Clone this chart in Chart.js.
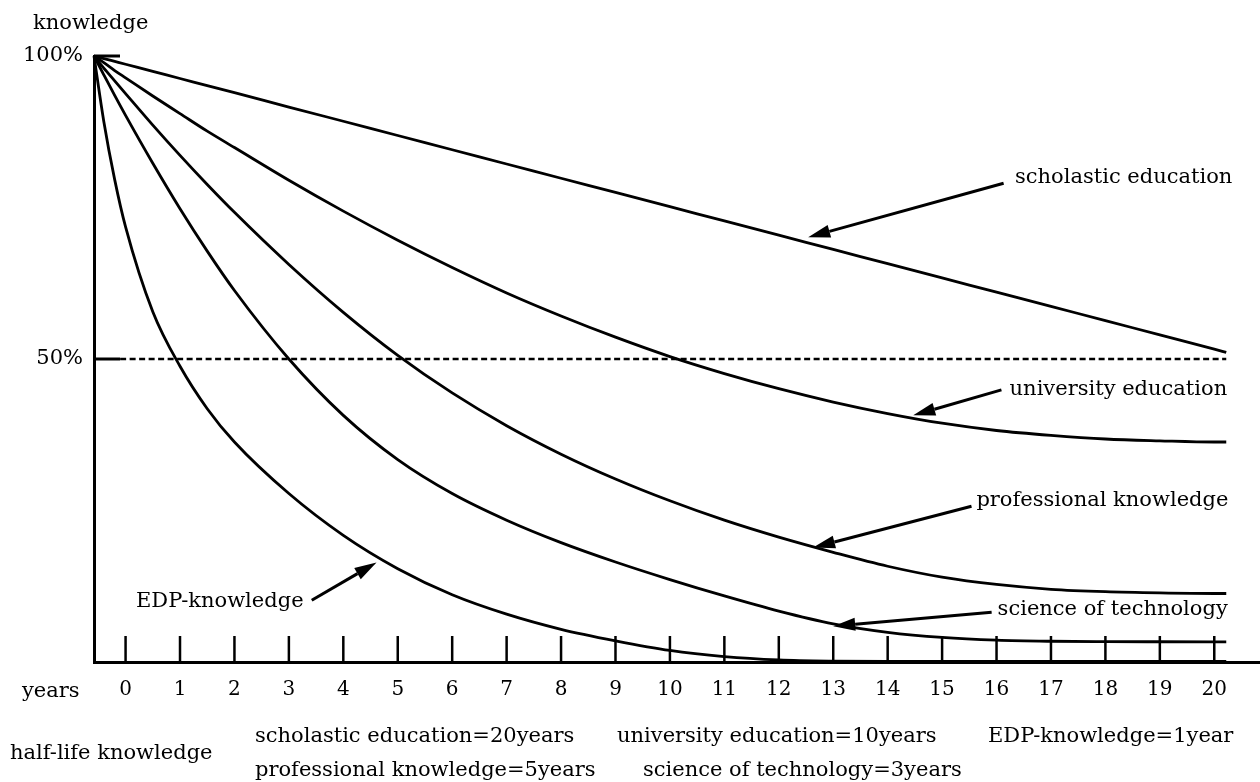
<!DOCTYPE html>
<html>
<head>
<meta charset="utf-8">
<title>Half-life of knowledge</title>
<script src="https://cdn.jsdelivr.net/npm/chart.js@4.4.1/dist/chart.umd.min.js"></script>
<style>
    html, body { margin: 0; padding: 0; background: #fff; }
</style>
</head>
<body>
<canvas id="myChart" width="1260" height="782"></canvas>
<script>
const years = [-0.58, -0.4, -0.2, 0, 0.5, 1, 1.5, 2, 3, 4, 5, 6, 7, 8, 9, 10, 11, 12, 13, 14, 15, 16, 17, 18, 19, 20, 20.22];

// Remaining knowledge in % for each kind of knowledge
const scholastic   = [100, 99.58, 99.11, 98.64, 97.46, 96.29, 95.11, 93.94, 91.58, 89.23, 86.88, 84.53, 82.18, 79.83, 77.48, 75.13, 72.78, 70.43, 68.08, 65.73, 63.38, 61.03, 58.68, 56.33, 53.98, 51.63, 51.1];
const university   = [100, 98.9, 97.6, 96.4, 93.4, 90.5, 87.6, 84.9, 79.5, 74.4, 69.6, 65.1, 60.9, 57.1, 53.6, 50.4, 47.6, 45.1, 42.9, 41.0, 39.4, 38.2, 37.4, 36.8, 36.5, 36.3, 36.3];
const professional = [100, 98.0, 95.9, 93.8, 88.6, 83.6, 78.8, 74.2, 65.6, 57.7, 50.6, 44.4, 39.0, 34.3, 30.2, 26.6, 23.4, 20.6, 18.1, 15.8, 14.0, 12.8, 12.0, 11.6, 11.4, 11.3, 11.3];
const science      = [100, 96.9, 93.5, 90.2, 82.3, 74.8, 67.8, 61.3, 50.0, 40.7, 33.4, 27.8, 23.4, 19.7, 16.5, 13.6, 10.9, 8.4, 6.3, 4.9, 4.05, 3.6, 3.42, 3.36, 3.34, 3.33, 3.33];
const edp          = [100, 89.2, 79.6, 71.8, 57.8, 48.8, 41.8, 36.3, 27.8, 20.9, 15.4, 11.1, 7.9, 5.4, 3.5, 1.9, 0.9, 0.35, 0.15, 0.1, 0.1, 0.1, 0.1, 0.1, 0.1, 0.1, 0.1];

// Axis ticks
const yearTicks = [0, 1, 2, 3, 4, 5, 6, 7, 8, 9, 10, 11, 12, 13, 14, 15, 16, 17, 18, 19, 20];
const percentTicks = [50, 100];
const halfLevel = 50;

const FONT = 'DejaVu Serif';

// Curve labels with their arrows (data units: year, %)
const notes = [
    { text: 'scholastic education',   at: [16.34, 79.9], from: [16.13, 79.0], to: [12.54, 70.1], align: 'left' },
    { text: 'university education',   at: [16.24, 44.9], from: [16.09, 44.9], to: [14.47, 40.7], align: 'left' },
    { text: 'professional knowledge', at: [15.63, 26.7], from: [15.54, 25.7], to: [12.63, 18.9], align: 'left' },
    { text: 'science of technology',  at: [16.02, 8.6],  from: [15.91, 8.2],  to: [13.0, 5.9],   align: 'left' },
    { text: 'EDP-knowledge',          at: [3.27, 10.0],  from: [3.42, 10.2],  to: [4.61, 16.4],  align: 'right' }
];

// Half-life captions under the chart (pixel positions)
const captions = [
    { text: 'half-life knowledge',           x: 10,  y: 759 },
    { text: 'scholastic education=20years',  x: 255, y: 742 },
    { text: 'university education=10years',  x: 617, y: 742 },
    { text: 'EDP-knowledge=1year',           x: 988, y: 742 },
    { text: 'professional knowledge=5years', x: 255, y: 776 },
    { text: 'science of technology=3years',  x: 643, y: 776 }
];

function curve(values) {
    return {
        data: years.map((x, i) => ({ x: x, y: values[i] })),
        borderColor: '#000',
        borderWidth: 2.8,
        pointRadius: 0,
        fill: false,
        cubicInterpolationMode: 'monotone',
        clip: false
    };
}

function drawArrow(ctx, x1, y1, x2, y2) {
    const ang = Math.atan2(y2 - y1, x2 - x1);
    const len = 22, half = 6.5;
    const bx = x2 - len * Math.cos(ang), by = y2 - len * Math.sin(ang);
    ctx.beginPath();
    ctx.moveTo(x1, y1);
    ctx.lineTo(bx, by);
    ctx.stroke();
    ctx.beginPath();
    ctx.moveTo(x2, y2);
    ctx.lineTo(bx + half * Math.sin(ang), by - half * Math.cos(ang));
    ctx.lineTo(bx - half * Math.sin(ang), by + half * Math.cos(ang));
    ctx.closePath();
    ctx.fill();
}

// Inside tick marks, curve labels, arrows and captions
const decorPlugin = {
    id: 'decor',
    afterDraw(chart) {
        const { ctx, chartArea: area, scales: { x, y } } = chart;
        ctx.save();
        ctx.strokeStyle = '#000';
        ctx.fillStyle = '#000';
        ctx.lineCap = 'butt';

        // year ticks pointing up into the plot
        ctx.lineWidth = 2.5;
        yearTicks.forEach(v => {
            const px = x.getPixelForValue(v);
            ctx.beginPath();
            ctx.moveTo(px, area.bottom - 26);
            ctx.lineTo(px, area.bottom);
            ctx.stroke();
        });

        // percent ticks pointing right
        ctx.lineWidth = 3;
        percentTicks.forEach(v => {
            const py = y.getPixelForValue(v);
            ctx.beginPath();
            ctx.moveTo(area.left, py);
            ctx.lineTo(area.left + 26, py);
            ctx.stroke();
        });

        // labels and arrows
        ctx.font = '21px "' + FONT + '"';
        ctx.textBaseline = 'middle';
        ctx.lineWidth = 3;
        notes.forEach(n => {
            ctx.textAlign = n.align;
            ctx.fillText(n.text, x.getPixelForValue(n.at[0]), y.getPixelForValue(n.at[1]));
            drawArrow(ctx,
                x.getPixelForValue(n.from[0]), y.getPixelForValue(n.from[1]),
                x.getPixelForValue(n.to[0]), y.getPixelForValue(n.to[1]));
        });

        // axis names and captions
        ctx.textAlign = 'left';
        ctx.textBaseline = 'alphabetic';
        ctx.fillText('knowledge', 33, 29);
        ctx.fillText('years', 22, 697);
        captions.forEach(c => ctx.fillText(c.text, c.x, c.y));
        ctx.restore();
    }
};

const ctx = document.getElementById('myChart').getContext('2d');
const myChart = new Chart(ctx, {
    type: 'line',
    data: {
        datasets: [
            curve(scholastic),
            curve(university),
            curve(professional),
            curve(science),
            curve(edp),
            {
                // 50% reference line
                data: [{ x: -0.1, y: halfLevel }, { x: years[years.length - 1], y: halfLevel }],
                borderColor: '#000',
                borderWidth: 2.5,
                borderDash: [6, 3.5],
                pointRadius: 0,
                fill: false,
                clip: false
            }
        ]
    },
    options: {
        responsive: false,
        animation: false,
        devicePixelRatio: 1,
        layout: { padding: { top: 56, left: 0, right: 0, bottom: 0 } },
        plugins: {
            legend: { display: false },
            tooltip: { enabled: false }
        },
        scales: {
            x: {
                type: 'linear',
                min: -0.58,
                max: 20.84,
                afterBuildTicks: scale => { scale.ticks = yearTicks.map(v => ({ value: v })); },
                afterFit: scale => { scale.height = 120; },
                grid: { display: false, drawTicks: false },
                border: { display: true, color: '#000', width: 3 },
                ticks: {
                    color: '#000',
                    font: { family: FONT, size: 20 },
                    padding: 16,
                    maxRotation: 0,
                    autoSkip: false
                }
            },
            y: {
                type: 'linear',
                min: 0,
                max: 100,
                afterBuildTicks: scale => { scale.ticks = percentTicks.map(v => ({ value: v })); },
                afterFit: scale => { scale.width = 94; },
                grid: { display: false, drawTicks: false },
                border: { display: true, color: '#000', width: 3 },
                ticks: {
                    color: '#000',
                    font: { family: FONT, size: 21 },
                    padding: 11,
                    callback: v => v + '%'
                }
            }
        }
    },
    plugins: [decorPlugin]
});
</script>
</body>
</html>
